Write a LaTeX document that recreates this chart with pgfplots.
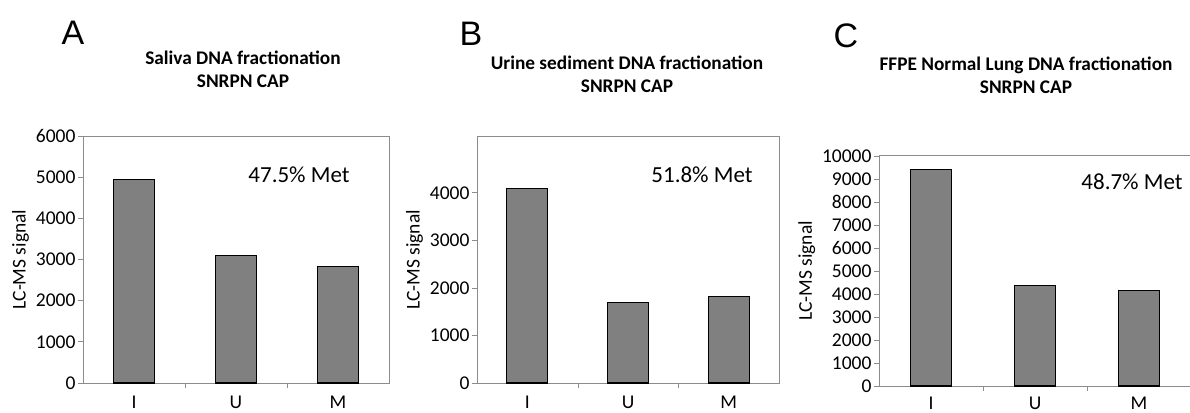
\documentclass[border=0pt]{standalone}
\usepackage{pgfplots}
\pgfplotsset{compat=1.18}
\usepackage{fontspec}
\setmainfont{Carlito}
\newfontfamily\arialfont{Liberation Sans}
\definecolor{barfill}{HTML}{808080}
\definecolor{boxgray}{HTML}{8C8C8C}
\pgfplotsset{
  panel/.style={
    scale only axis,
    anchor=south west,
    ybar,
    bar width=41pt,
    bar shift=0pt,
    xmin=0.5, xmax=3.5,
    ymin=0,
    xtick={1,2,3},
    xticklabels={I,U,M},
    major x tick style={draw=none},
    minor xtick={1.5,2.5},
    minor tick length=5pt,
    minor x tick style={boxgray},
    major tick length=5pt,
    tick align=outside,
    ytick pos=left,
    xtick pos=bottom,
    scaled y ticks=false,
    axis line style={boxgray, line width=1pt},
    y tick style={boxgray, line width=0.8pt},
    tick label style={font=\fontsize{19.5}{20}\selectfont},
    yticklabel style={/pgf/number format/1000 sep={}, /pgf/number format/assume math mode=true, xshift=1pt},
    xticklabel style={yshift=-4pt},
    ylabel={LC-MS signal},
    ylabel style={font=\fontsize{19.5}{20}\selectfont},
    clip=false,
  },
  mybar/.style={fill=barfill, draw=black, line width=1.1pt},
}
\begin{document}
\begin{tikzpicture}
\path[use as bounding box] (0,0) rectangle (1190pt,412pt);
\clip (0,0) rectangle (1190pt,412pt);
% Panel A
\begin{axis}[panel, at={(83pt,29pt)}, width=306pt, height=247pt, ymax=6000, ytick={0,1000,...,6000}]
\addplot[mybar] coordinates {(1,4950) (2,3105) (3,2830)};
\end{axis}
% Panel B
\begin{axis}[panel, at={(477pt,29pt)}, width=302pt, height=246pt, ymax=5175, ytick={0,1000,...,4000}]
\addplot[mybar] coordinates {(1,4100) (2,1690) (3,1825)};
\end{axis}
% Panel C
\begin{axis}[panel, at={(879pt,26pt)}, width=312pt, height=230pt, ymax=10000, ytick={0,1000,...,10000}, xticklabel style={yshift=2pt}]
\addplot[mybar] coordinates {(1,9420) (2,4350) (3,4150)};
\end{axis}
% panel letters
\node[font=\arialfont\fontsize{34}{34}\selectfont] at (73pt,379pt) {A};
\node[font=\arialfont\fontsize{34}{34}\selectfont] at (471pt,378pt) {B};
\node[font=\arialfont\fontsize{34}{34}\selectfont] at (846pt,376pt) {C};
% titles
\node[font=\bfseries\fontsize{19.3}{23}\selectfont, align=center] at (243pt,343pt) {Saliva DNA fractionation\\SNRPN CAP};
\node[font=\bfseries\fontsize{19.3}{23}\selectfont, align=center] at (627pt,338pt) {Urine sediment DNA fractionation\\SNRPN CAP};
\node[font=\bfseries\fontsize{19.3}{23}\selectfont, align=center] at (1026pt,337pt) {FFPE Normal Lung DNA fractionation\\SNRPN CAP};
% annotations
\node[font=\fontsize{23}{24}\selectfont] at (299pt,237pt) {47.5\% Met};
\node[font=\fontsize{23}{24}\selectfont] at (702pt,237pt) {51.8\% Met};
\node[font=\fontsize{23}{24}\selectfont] at (1132pt,230pt) {48.7\% Met};
\end{tikzpicture}
\end{document}
